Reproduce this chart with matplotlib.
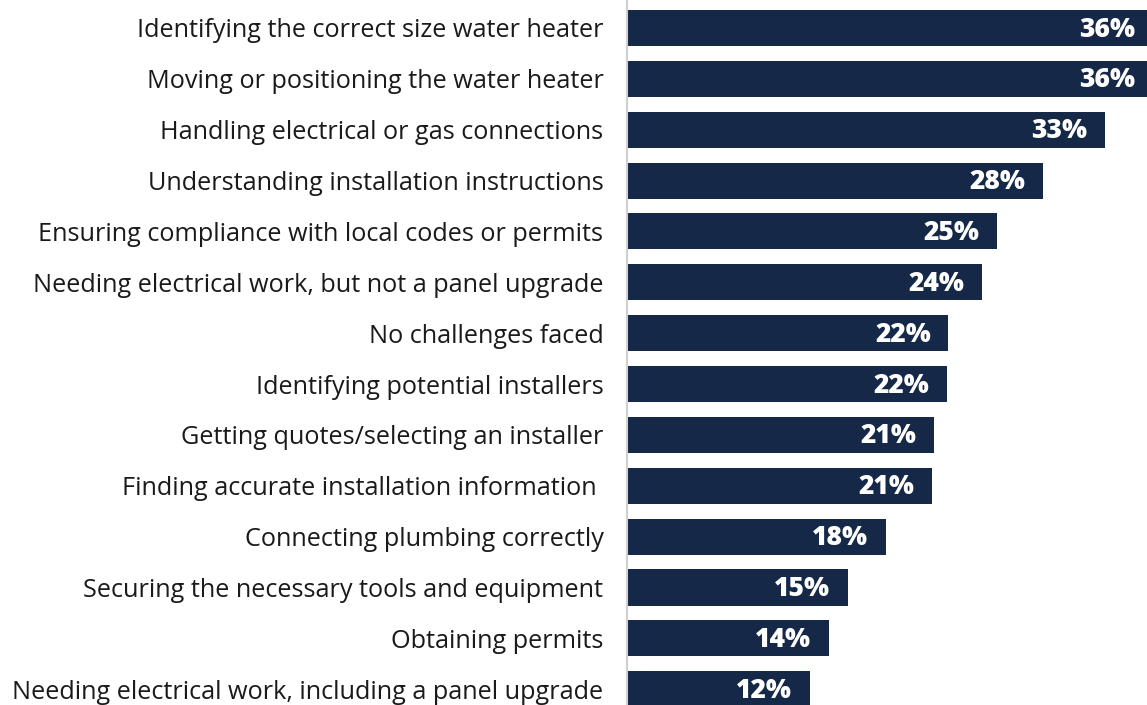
import matplotlib
matplotlib.use("Agg")
import matplotlib.pyplot as plt

categories = [
    "Identifying the correct size water heater",
    "Moving or positioning the water heater",
    "Handling electrical or gas connections",
    "Understanding installation instructions",
    "Ensuring compliance with local codes or permits",
    "Needing electrical work, but not a panel upgrade",
    "No challenges faced",
    "Identifying potential installers",
    "Getting quotes/selecting an installer",
    "Finding accurate installation information ",
    "Connecting plumbing correctly",
    "Securing the necessary tools and equipment",
    "Obtaining permits",
    "Needing electrical work, including a panel upgrade",
]
values = [36.0, 36.0, 32.7, 28.5, 25.3, 24.3, 22.0, 21.9, 21.0, 20.9, 17.7, 15.1, 13.8, 12.5]
labels = ["36%", "36%", "33%", "28%", "25%", "24%", "22%", "22%", "21%", "21%", "18%", "15%", "14%", "12%"]

W, H = 1147, 705
fig = plt.figure(figsize=(W / 100, H / 100), dpi=100)
ax = fig.add_axes([627 / W, 0, 1 - 627 / W, 1])

bar_color = "#152848"
ypos = list(range(len(categories)))
ax.barh(ypos, values, height=0.71, color=bar_color, edgecolor="none")

ax.set_xlim(0, 35.6)
ax.set_ylim(13.31, -0.55)

for y, v, lab in zip(ypos, values, labels):
    ax.text(v - 1.2, y + 0.03, lab, ha="right", va="center", color="white",
            fontsize=19, fontweight="heavy", family=["Open Sans", "DejaVu Sans"])

ax.set_yticks(ypos)
ax.set_yticklabels(categories, fontsize=18.2, family=["Open Sans", "DejaVu Sans"], color="#1a1a1a")
ax.tick_params(axis="y", length=0, pad=17)
ax.set_xticks([])
for s in ["top", "right", "bottom"]:
    ax.spines[s].set_visible(False)
ax.spines["left"].set_color("#d0d0d0")
ax.spines["left"].set_linewidth(1.5)

fig.savefig("out.png", dpi=100)
